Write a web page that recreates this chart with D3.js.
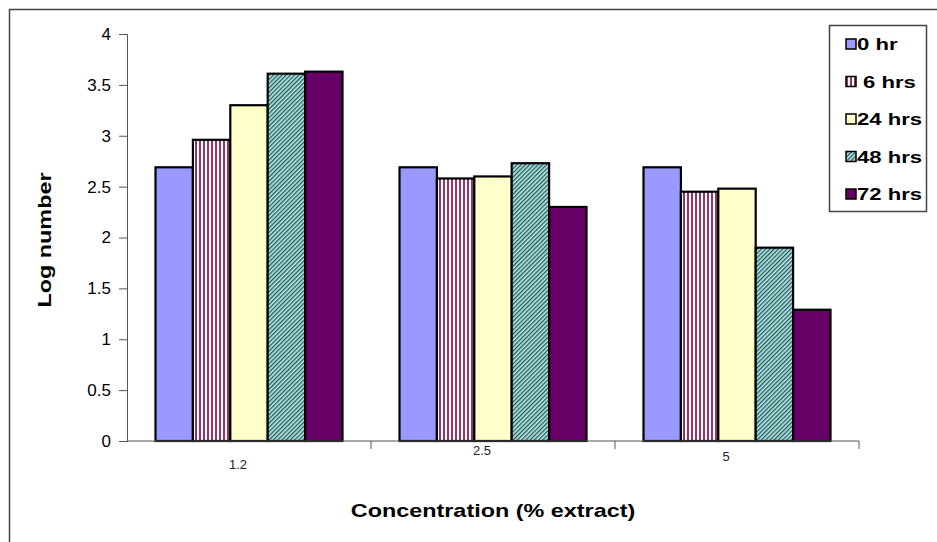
<!DOCTYPE html>
<html>
<head>
<meta charset="utf-8">
<script src="https://cdn.jsdelivr.net/npm/d3@7"></script>
<style>
  body { margin: 0; background: #fff; }
  svg { display: block; font-family: Arial, "Liberation Sans", sans-serif; }
</style>
</head>
<body>
<svg id="chart"></svg>
<script>
const categories = ['1.2', '2.5', '5'];
const seriesNames = ['0 hr', '6 hrs', '24 hrs', '48 hrs', '72 hrs'];
const values = {
  '0 hr':   [2.69, 2.69, 2.69],
  '6 hrs':  [2.96, 2.58, 2.45],
  '24 hrs': [3.30, 2.60, 2.48],
  '48 hrs': [3.61, 2.73, 1.90],
  '72 hrs': [3.63, 2.30, 1.29]
};
const yTicks = [0, 0.5, 1, 1.5, 2, 2.5, 3, 3.5, 4];
// category labels sit at staggered heights in the picture
const xLabelY = [466, 452, 458];

const width = 937;
const height = 542;
const marginLeft = 127;
const marginRight = 78;
const marginTop = 34;
const marginBottom = 101;
const stretch = 1.3; // the original text is drawn wide

const svg = d3.select('#chart')
  .attr('width', width)
  .attr('height', height);

// patterns
const defs = svg.append('defs');
const stripes = defs.append('pattern')
  .attr('id', 'vstripe')
  .attr('patternUnits', 'userSpaceOnUse')
  .attr('width', 4).attr('height', 4);
stripes.append('rect').attr('width', 4).attr('height', 4).attr('fill', '#fff');
stripes.append('rect').attr('width', 2).attr('height', 4).attr('fill', '#993366');

const diag = defs.append('pattern')
  .attr('id', 'diag')
  .attr('patternUnits', 'userSpaceOnUse')
  .attr('width', 3).attr('height', 3)
  .attr('patternTransform', 'rotate(45)');
diag.append('rect').attr('width', 3).attr('height', 3).attr('fill', '#b0eaea');
diag.append('rect').attr('width', 1.3).attr('height', 3).attr('fill', '#2f5555');

const fills = {
  '0 hr': '#9999ff',
  '6 hrs': 'url(#vstripe)',
  '24 hrs': '#ffffcc',
  '48 hrs': 'url(#diag)',
  '72 hrs': '#660066'
};

// outer frame
svg.append('path')
  .attr('d', `M9.5,${height} V9.5 H${width}`)
  .attr('fill', 'none')
  .attr('stroke', '#444')
  .attr('stroke-width', 1.5);

const x0 = d3.scaleBand()
  .domain(categories)
  .range([marginLeft, width - marginRight]);

const x1 = d3.scaleBand()
  .domain(seriesNames)
  .range([28.5, x0.bandwidth() - 28.5]);

const y = d3.scaleLinear()
  .domain([0, 4])
  .range([height - marginBottom, marginTop]);

// bars
const groups = svg.append('g')
  .selectAll('g')
  .data(categories)
  .join('g')
  .attr('transform', d => `translate(${x0(d)},0)`);

groups.selectAll('rect')
  .data((c, i) => seriesNames.map(s => ({ s, v: values[s][i] })))
  .join('rect')
  .attr('x', d => x1(d.s))
  .attr('y', d => y(d.v))
  .attr('width', x1.bandwidth())
  .attr('height', d => y(0) - y(d.v))
  .attr('fill', d => fills[d.s])
  .attr('stroke', '#000')
  .attr('stroke-width', 2.2);

// y axis
const yAxis = svg.append('g')
  .attr('transform', `translate(${marginLeft},0)`)
  .call(d3.axisLeft(y).tickValues(yTicks).tickSize(8).tickPadding(8).tickFormat(d3.format('')));
yAxis.select('.domain').attr('stroke', '#555');
yAxis.selectAll('.tick line').attr('stroke', '#555');
yAxis.selectAll('text').attr('font-size', 17).attr('fill', '#000').attr('font-family', 'Arial, "Liberation Sans", sans-serif');

// x axis
const xAxisG = svg.append('g')
  .attr('transform', `translate(0,${y(0)})`);
xAxisG.append('line')
  .attr('x1', marginLeft).attr('x2', width - marginRight)
  .attr('stroke', '#555');
xAxisG.selectAll('.cat-tick')
  .data(categories.map(c => x0(c) + x0.bandwidth()))
  .join('line')
  .attr('class', 'cat-tick')
  .attr('x1', d => d).attr('x2', d => d)
  .attr('y1', 0).attr('y2', 8)
  .attr('stroke', '#555');

svg.append('g')
  .selectAll('text')
  .data(categories)
  .join('text')
  .attr('x', d => x0(d) + x0.bandwidth() / 2 - 11)
  .attr('y', (d, i) => xLabelY[i])
  .attr('text-anchor', 'middle')
  .attr('dominant-baseline', 'middle')
  .attr('font-size', 13)
  .attr('fill', '#222')
  .text(d => d);

// axis titles
svg.append('text')
  .attr('transform', `translate(${(marginLeft + width - marginRight) / 2},517) scale(${stretch},1)`)
  .attr('text-anchor', 'middle')
  .attr('font-size', 18)
  .attr('font-weight', 'bold')
  .text('Concentration (% extract)');

svg.append('text')
  .attr('transform', `translate(51,240) rotate(-90) scale(${stretch},1)`)
  .attr('text-anchor', 'middle')
  .attr('font-size', 18)
  .attr('font-weight', 'bold')
  .text('Log number');

// legend
const legend = svg.append('g');
legend.append('rect')
  .attr('x', 829.5).attr('y', 25.5)
  .attr('width', 97).attr('height', 186)
  .attr('fill', '#fff')
  .attr('stroke', '#444')
  .attr('stroke-width', 1.5);

const legendItems = legend.selectAll('g.item')
  .data(seriesNames)
  .join('g')
  .attr('class', 'item')
  .attr('transform', (d, i) => `translate(846,${44 + i * 37.5})`);

legendItems.append('rect')
  .attr('x', 0).attr('y', -5)
  .attr('width', 10).attr('height', 10)
  .attr('fill', d => fills[d])
  .attr('stroke', '#000')
  .attr('stroke-width', 1.5);

legendItems.append('text')
  .attr('transform', d => `translate(${d === '6 hrs' ? 17 : 11},0) scale(${stretch},1)`)
  .attr('dominant-baseline', 'central')
  .attr('font-size', 17)
  .attr('font-weight', 'bold')
  .text(d => d);
</script>
</body>
</html>
